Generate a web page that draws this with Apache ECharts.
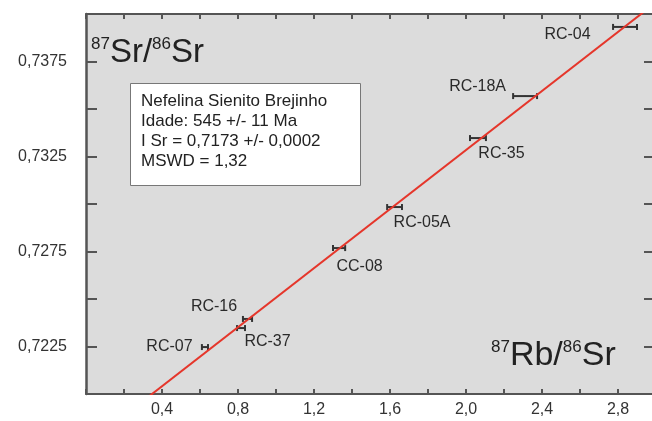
<!DOCTYPE html>
<html>
<head>
<meta charset="utf-8">
<script src="https://cdn.jsdelivr.net/npm/echarts@6/dist/echarts.min.js"></script>
<style>html,body{margin:0;padding:0;background:#fff;}#c{width:652px;height:421px;}</style>
</head>
<body>
<div id="c"></div>
<script>
// ---- data ----
var sampleNames = ['RC-07', 'RC-37', 'RC-16', 'CC-08', 'RC-05A', 'RC-35', 'RC-18A', 'RC-04'];
var rbSr = [0.626, 0.816, 0.850, 1.332, 1.624, 2.063, 2.311, 2.837];
var srSr = [0.72247, 0.72347, 0.72395, 0.72768, 0.72984, 0.73347, 0.73568, 0.73932];
var rbSrErr = [0.016, 0.021, 0.024, 0.032, 0.039, 0.042, 0.063, 0.063];
var isochronX = [0, 3.0];
var isochronY = [0.7173, 0.74061];
var infoLines = ['Nefelina Sienito Brejinho', 'Idade: 545 +/- 11 Ma', 'I Sr = 0,7173 +/- 0,0002', 'MSWD = 1,32'];

// label placement (style, pixel offsets from each point)
var labelOffsets = [[-35, 0], [27, 14], [-33, -12], [21, 19], [28, 16], [24, 16], [-47, -9], [-57, 8]];

var axisColor = '#555';
var FONT = 'Liberation Sans, Arial, sans-serif';
var chart = echarts.init(document.getElementById('c'), null, {renderer: 'canvas'});

var pts = rbSr.map(function (x, i) { return [x, srSr[i], rbSrErr[i]]; });
var labelData = rbSr.map(function (x, i) {
  return {value: [x, srSr[i]], name: sampleNames[i]};
});

var option = {
  animation: false,
  backgroundColor: '#fff',
  grid: {left: 86, top: 14, width: 570, height: 380, outerBoundsMode: 'none', containLabel: false,
         show: true, backgroundColor: '#dcdcdc', borderWidth: 0},
  xAxis: [{
    type: 'value', min: 0, max: 3.0, interval: 0.2, position: 'bottom',
    axisLine: {show: true, onZero: false, lineStyle: {color: axisColor, width: 2}},
    axisTick: {show: true, inside: true, length: 5, lineStyle: {color: axisColor, width: 2}},
    axisLabel: {
      margin: 8, color: '#333', fontSize: 16, fontFamily: FONT,
      formatter: function (v) {
        var k = Math.round(v / 0.2);
        return (k > 0 && k % 2 === 0) ? v.toFixed(1).replace('.', ',') : '';
      }
    },
    splitLine: {show: false}
  }, {
    type: 'value', min: 0, max: 3.0, interval: 0.2, position: 'top',
    axisLine: {show: true, onZero: false, lineStyle: {color: axisColor, width: 2}},
    axisTick: {show: true, inside: true, length: 5, lineStyle: {color: axisColor, width: 2}},
    axisLabel: {show: false},
    splitLine: {show: false}
  }],
  yAxis: [{
    type: 'value', min: 0.72, max: 0.74, interval: 0.0025, position: 'left',
    axisLine: {show: true, onZero: false, lineStyle: {color: axisColor, width: 2.5}},
    axisTick: {show: true, inside: true, length: 11, lineStyle: {color: axisColor, width: 2}},
    axisLabel: {
      margin: 19, color: '#333', fontSize: 16, fontFamily: FONT,
      formatter: function (v) {
        var k = Math.round((v - 0.72) / 0.0025);
        return (k % 2 === 1) ? v.toFixed(4).replace('.', ',') : '';
      }
    },
    splitLine: {show: false}
  }, {
    type: 'value', min: 0.72, max: 0.74, interval: 0.0025, position: 'right',
    axisLine: {show: true, onZero: false, lineStyle: {color: axisColor, width: 2}},
    axisTick: {show: true, inside: true, length: 12, lineStyle: {color: axisColor, width: 2}},
    axisLabel: {show: false},
    splitLine: {show: false}
  }],
  series: [{
    type: 'line',
    data: isochronX.map(function (x, i) { return [x, isochronY[i]]; }),
    showSymbol: false, symbol: 'none', clip: true,
    lineStyle: {color: '#e5362b', width: 2},
    z: 3
  }, {
    type: 'custom',
    data: pts,
    clip: true,
    renderItem: function (params, api) {
      var x = api.value(0), y = api.value(1), e = api.value(2);
      var p1 = api.coord([x - e, y]);
      var p2 = api.coord([x + e, y]);
      var h = 3;
      var st = {stroke: '#333', lineWidth: 2};
      return {
        type: 'group',
        children: [
          {type: 'line', shape: {x1: p1[0], y1: p1[1], x2: p2[0], y2: p2[1]}, style: st},
          {type: 'line', shape: {x1: p1[0], y1: p1[1] - h, x2: p1[0], y2: p1[1] + h}, style: st},
          {type: 'line', shape: {x1: p2[0], y1: p2[1] - h, x2: p2[0], y2: p2[1] + h}, style: st}
        ]
      };
    },
    z: 2
  }, {
    type: 'scatter',
    data: labelData,
    symbolSize: 1,
    itemStyle: {color: '#333', opacity: 1},
    label: {
      show: true, position: [0, 0], align: 'center', verticalAlign: 'middle', formatter: '{b}',
      color: '#2a2a2a', opacity: 1, fontSize: 16, fontFamily: FONT, textBorderWidth: 0
    },
    labelLayout: function (params) {
      var o = labelOffsets[params.dataIndex];
      return {dx: o[0], dy: o[1], hideOverlap: false};
    },
    z: 4
  }],
  graphic: [{
    type: 'rect', left: 130, top: 83, z: 10,
    shape: {width: 230, height: 102},
    style: {fill: '#fff', stroke: '#777', lineWidth: 1}
  }, {
    type: 'text', left: 141, top: 91, z: 11,
    style: {
      text: infoLines.join('\n'), fill: '#222', fontSize: 17, lineHeight: 20,
      fontFamily: FONT
    }
  }, {
    type: 'text', left: 91, top: 36, z: 11,
    style: {
      text: '{s|87}{b|Sr/}{s|86}{b|Sr}',
      fontFamily: FONT,
      rich: {
        s: {fontSize: 17, fill: '#222', verticalAlign: 'top', fontFamily: FONT},
        b: {fontSize: 33, fill: '#222', verticalAlign: 'bottom', fontFamily: FONT}
      }
    }
  }, {
    type: 'text', left: 491, top: 339, z: 11,
    style: {
      text: '{s|87}{b|Rb/}{s|86}{b|Sr}',
      fontFamily: FONT,
      rich: {
        s: {fontSize: 17, fill: '#222', verticalAlign: 'top', fontFamily: FONT},
        b: {fontSize: 34, fill: '#222', verticalAlign: 'bottom', fontFamily: FONT}
      }
    }
  }]
};
chart.setOption(option);
</script>
</body>
</html>
